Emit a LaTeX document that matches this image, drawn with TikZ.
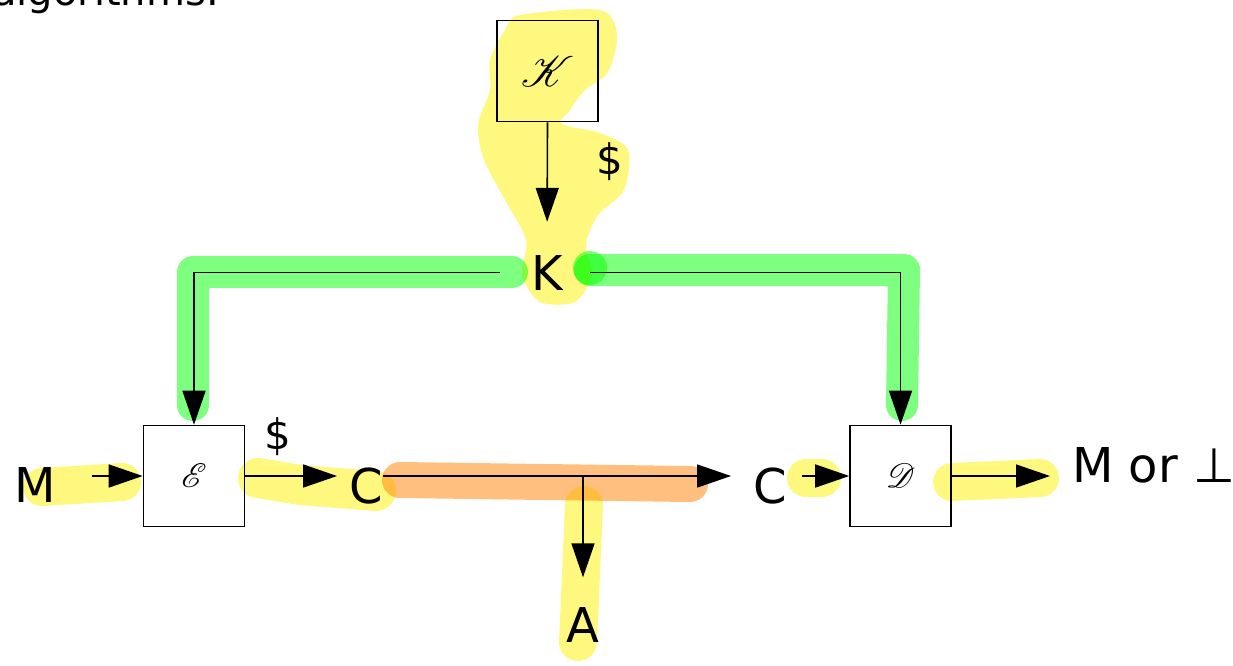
\documentclass[tikz,border=0pt]{standalone}
\usepackage{fontspec}
\usepackage{mathrsfs}
\setmainfont{DejaVu Sans}
\usetikzlibrary{arrows.meta}
\begin{document}
\begin{tikzpicture}[x=1pt,y=-1pt,
  box/.style={draw,line width=1.6pt,minimum size=101pt,inner sep=0pt},
  lbl/.style={inner sep=0pt,font=\fontsize{48}{48}\selectfont},
  dollar/.style={inner sep=0pt,font=\fontsize{42}{42}\selectfont},
  arr/.style={line width=1.6pt,-{Triangle[length=34pt,width=23pt]}},
  hl/.style={line width=#1,line cap=round,line join=round,opacity=.5},
  hl/.default=38pt]
\useasboundingbox (0,0) rectangle (1233,665);

% --- highlighter marks (behind the drawing) ---
\fill[yellow,opacity=.5] plot[smooth cycle] coordinates {
  (520,15) (600,10) (617,35) (608,72) (585,90) (570,110) (562,124) (600,133) (628,150)
  (624,190) (598,215) (586,245) (592,275) (575,302) (540,302) (522,275)
  (526,240) (505,200) (484,160) (478,125) (490,90) (490,60) (505,30)};
\draw[hl,yellow] (42,487) -- (122,482);
\draw[hl=40pt,yellow] (258,478) -- (300,485) -- (376,491);
\draw[hl,yellow] (806,478) -- (822,478);
\draw[hl,yellow] (952,482) -- (1040,478);
\draw[hl,yellow] (584,505) -- (578,642);
\draw[hl=36pt,orange] (400,480) -- (690,484);
\draw[hl=32pt,green] (512,272) -- (193,272) -- (193,405);
\draw[hl=32pt,green] (590,270) -- (904,270) -- (902,405);
\fill[green,opacity=.5] (590,268) circle (17);

% --- text at the top edge ---
\node[inner sep=0pt,font=\fontsize{40}{40}\selectfont,anchor=base east] (alg) at (219,5) {algorithms.};

% --- key generation ---
\node[box] (Kb) at (547.5,71) {\scalebox{4.3}{$\mathscr{K}$}};
\node[lbl,anchor=base] (Kt) at (547,290) {K};
\node[dollar] (d1) at (610,162) {\$};
\draw[arr,shorten >=33pt] (Kb.south) -- (Kt.north);

% --- encryption and decryption ---
\node[box] (E) at (194,476) {\scalebox{3.4}{$\mathscr{E}$}};
\node[box] (D) at (900.5,476) {\scalebox{3.4}{$\mathscr{D}$}};

\draw[arr] ([xshift=-31pt]Kt.west) -| (E.north);
\draw[arr] ([xshift=27pt]Kt.east) -| (D.north);

\node[lbl] (M) at (35,485) {M};
\node[lbl] (C1) at (366,486) {C};
\node[dollar] (d2) at (278,437) {\$};
\node[lbl] (C2) at (770,486) {C};
\node[lbl,anchor=west] (out) at (1072,465) {M or ⊥};
\node[lbl] (A) at (583,625) {A};
\coordinate (tap) at (583,477);

\draw[arr,shorten <=36pt] (M.east |- E.west) -- (E.west);
\draw[arr,shorten >=12pt] (E.east) -- (E.east -| C1.west);
\draw[arr,shorten >=22pt] (C1.east |- E.east) -- (C1.east |- E.east -| C2.west);
\draw[arr,shorten >=30pt] (tap) -- (A.north);
\draw[arr,shorten <=15pt] (C2.east |- D.west) -- (D.west);
\draw[arr,shorten >=22pt] (D.east) -- (D.east -| out.west);
\end{tikzpicture}
\end{document}
